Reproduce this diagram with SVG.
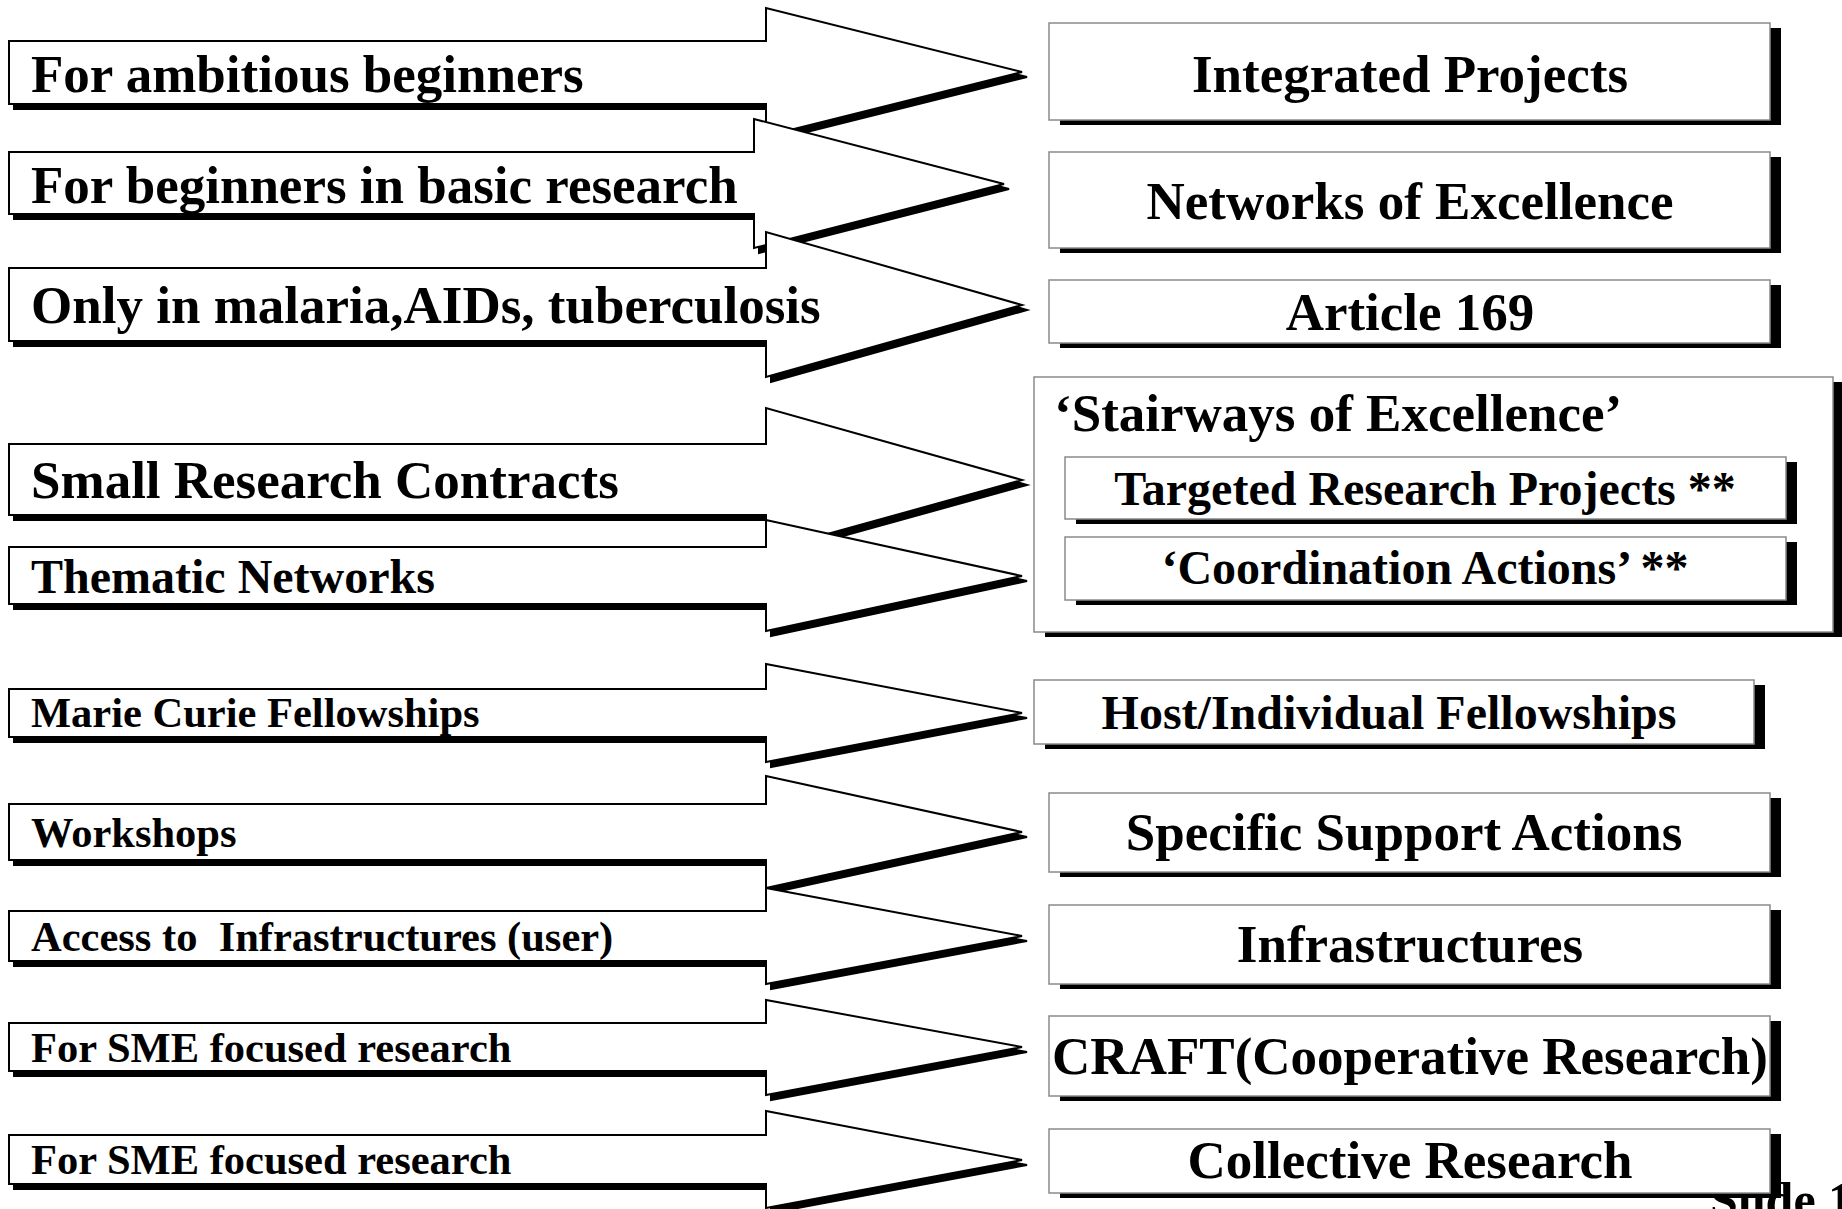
<svg xmlns="http://www.w3.org/2000/svg" xmlns:xlink="http://www.w3.org/1999/xlink" width="1842" height="1209" viewBox="0 0 1842 1209">
<style>
.sh{fill:#000;stroke:#000;stroke-width:2}
.arr{fill:#fff;stroke:#000;stroke-width:2;stroke-linejoin:miter}
.bsh{fill:#000}
.box{fill:#fff;stroke:#8a8a8a;stroke-width:1.5}
.t{font-family:"Liberation Serif","Times New Roman",serif;font-weight:bold;fill:#000}
.l1{font-size:53px}
.l2{font-size:48px}
.l3{font-size:42.5px}
.c{text-anchor:middle}
</style>
<defs>
<polygon id="p1" points="9,41 766,41 766,8 1022,72 766,136 766,104 9,104"/>
<polygon id="p2" points="9,152 754,152 754,119 1004,184 754,248 754,214 9,214"/>
<polygon id="p3" points="9,268 766,268 766,232 1022,305 766,377 766,341 9,341"/>
<polygon id="p4" points="9,444 766,444 766,408 1022,480 766,551 766,515 9,515"/>
<polygon id="p5" points="9,547 766,547 766,520 1022,576 766,631 766,604 9,604"/>
<polygon id="p6" points="9,689 766,689 766,664 1022,713 766,762 766,737 9,737"/>
<polygon id="p7" points="9,804 766,804 766,776 1022,832 766,888 766,860 9,860"/>
<polygon id="p8" points="9,911 766,911 766,888 1022,936 766,984 766,961 9,961"/>
<polygon id="p9" points="9,1023 766,1023 766,1000 1022,1047 766,1095 766,1071 9,1071"/>
<polygon id="p10" points="9,1135 766,1135 766,1111 1022,1160 766,1208 766,1184 9,1184"/>
</defs>
<rect width="1842" height="1209" fill="#fff"/>
<g id="connectors">
<g id="arrow1"><use xlink:href="#p1" class="sh" transform="translate(5,5)"/><use xlink:href="#p1" class="arr"/><text class="t l1" x="31" y="92">For ambitious beginners</text></g>
<g id="arrow2"><use xlink:href="#p2" class="sh" transform="translate(5,5)"/><use xlink:href="#p2" class="arr"/><text class="t l1" x="31" y="203">For beginners in basic research</text></g>
<g id="arrow3"><use xlink:href="#p3" class="sh" transform="translate(5,5)"/><use xlink:href="#p3" class="arr"/><text class="t l1" x="31" y="323">Only in malaria,AIDs, tuberculosis</text></g>
<g id="arrow4"><use xlink:href="#p4" class="sh" transform="translate(5,5)"/><use xlink:href="#p4" class="arr"/><text class="t l1" x="31" y="498">Small Research Contracts</text></g>
<g id="arrow5"><use xlink:href="#p5" class="sh" transform="translate(5,5)"/><use xlink:href="#p5" class="arr"/><text class="t l2" x="31" y="593">Thematic Networks</text></g>
<g id="arrow6"><use xlink:href="#p6" class="sh" transform="translate(5,5)"/><use xlink:href="#p6" class="arr"/><text class="t l3" x="31" y="727">Marie Curie Fellowships</text></g>
<g id="arrow7"><use xlink:href="#p7" class="sh" transform="translate(5,5)"/><use xlink:href="#p7" class="arr"/><text class="t l3" x="31" y="847">Workshops</text></g>
<g id="arrow8"><use xlink:href="#p8" class="sh" transform="translate(5,5)"/><use xlink:href="#p8" class="arr"/><text class="t l3" x="31" y="951" xml:space="preserve">Access to  Infrastructures (user)</text></g>
<g id="arrow9"><use xlink:href="#p9" class="sh" transform="translate(5,5)"/><use xlink:href="#p9" class="arr"/><text class="t l3" x="31" y="1062">For SME focused research</text></g>
<g id="arrow10"><use xlink:href="#p10" class="sh" transform="translate(5,5)"/><use xlink:href="#p10" class="arr"/><text class="t l3" x="31" y="1174">For SME focused research</text></g>
</g>
<text class="t" x="1710" y="1217" style="font-size:50px">Slide 1</text>
<g id="integrated-projects"><rect class="bsh" x="1060" y="28" width="721" height="97"/><rect class="box" x="1049" y="23" width="721" height="97"/><text class="t l1 c" x="1410" y="92">Integrated Projects</text></g>
<g id="networks-of-excellence"><rect class="bsh" x="1060" y="157" width="721" height="96"/><rect class="box" x="1049" y="152" width="721" height="96"/><text class="t l1 c" x="1410" y="219">Networks of Excellence</text></g>
<g id="article-169"><rect class="bsh" x="1060" y="285" width="721" height="63"/><rect class="box" x="1049" y="280" width="721" height="63"/><text class="t l1 c" x="1410" y="330">Article 169</text></g>
<g id="stairways"><rect class="bsh" x="1045" y="382" width="799" height="255"/><rect class="box" x="1034" y="377" width="799" height="255"/><text class="t l1" x="1054" y="431">‘Stairways of Excellence’</text>
<g id="targeted-research-projects"><rect class="bsh" x="1076" y="462" width="721" height="62"/><rect class="box" x="1065" y="457" width="721" height="62"/><text class="t l2 c" x="1425" y="505">Targeted Research Projects **</text></g>
<g id="coordination-actions"><rect class="bsh" x="1076" y="542" width="721" height="63"/><rect class="box" x="1065" y="537" width="721" height="63"/><text class="t l2 c" x="1425" y="584">‘Coordination Actions’ **</text></g>
</g>
<g id="host-individual-fellowships"><rect class="bsh" x="1045" y="685" width="720" height="64"/><rect class="box" x="1034" y="680" width="720" height="64"/><text class="t l2 c" x="1389" y="729">Host/Individual Fellowships</text></g>
<g id="specific-support-actions"><rect class="bsh" x="1060" y="798" width="721" height="79"/><rect class="box" x="1049" y="793" width="721" height="79"/><text class="t l1 c" x="1404" y="850">Specific Support Actions</text></g>
<g id="infrastructures"><rect class="bsh" x="1060" y="910" width="721" height="79"/><rect class="box" x="1049" y="905" width="721" height="79"/><text class="t l1 c" x="1410" y="962">Infrastructures</text></g>
<g id="craft"><rect class="bsh" x="1060" y="1021" width="721" height="80"/><rect class="box" x="1049" y="1016" width="721" height="80"/><text class="t l1 c" x="1410" y="1074">CRAFT(Cooperative Research)</text></g>
<g id="collective-research"><rect class="bsh" x="1060" y="1134" width="721" height="64"/><rect class="box" x="1049" y="1129" width="721" height="64"/><text class="t l1 c" x="1410" y="1178">Collective Research</text></g>
</svg>
